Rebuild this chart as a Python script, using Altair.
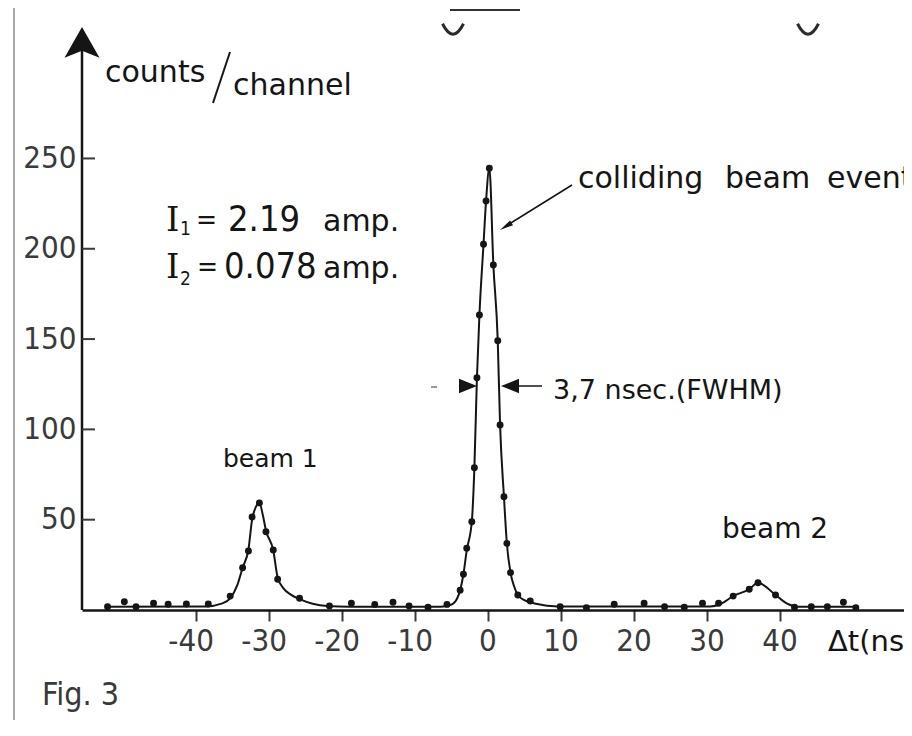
import altair as alt
import pandas as pd

# ---------------- data ----------------
pt_t = [-52.1, -49.8, -48.2, -45.8, -43.8, -41.3, -38.3, -35.3, -33.6, -32.8,
        -32.3, -31.3, -30.4, -29.4, -28.8, -25.8, -21.7, -18.7, -15.5, -13.0,
        -10.8, -8.2, -5.6, -3.8, -3.35, -2.9, -2.2, -1.85, -1.5, -1.16,
        -0.6, -0.25, 0.2, 0.75, 1.35, 1.67, 2.2, 2.6, 3.1, 4.1,
        5.8, 9.9, 13.5, 17.3, 21.4, 24.2, 26.9, 29.4, 31.6, 33.6,
        35.8, 37.0, 39.4, 42.0, 44.3, 46.5, 48.7, 50.4]
pt_v = [1.8, 4.6, 1.8, 3.7, 3.2, 3.3, 3.3, 7.7, 23.4, 32.7,
        51.5, 59.3, 43.3, 33.2, 17.0, 6.5, 2.2, 3.7, 3.1, 4.3,
        2.2, 1.5, 3.1, 11.0, 19.8, 34.2, 48.9, 78.8, 128.6, 163.3,
        202.5, 226.5, 244.6, 191.0, 149.1, 102.4, 62.7, 36.9, 20.7, 8.3,
        5.0, 1.8, 1.3, 3.2, 3.7, 1.8, 1.5, 3.7, 3.7, 7.7,
        11.5, 15.1, 8.3, 1.5, 1.8, 1.8, 4.3, 1.3]

curve_t = [-52.3, -38.5, -36.5, -35.3, -34.3, -33.6, -32.8, -32.3, -31.8, -31.3,
           -30.8, -30.4, -29.4, -28.8, -28.0, -27.0, -25.8, -24.0, -22.0, -19.0,
           -6.5, -5.0, -4.2, -3.8, -3.35, -2.9, -2.2, -1.85, -1.5, -1.16,
           -0.6, -0.25, 0.2, 0.75, 1.35, 1.67, 2.2, 2.6, 3.1, 3.6,
           4.1, 5.0, 6.0, 7.5, 9.5, 30.5, 31.8, 33.6, 35.8, 37.0,
           39.4, 41.0, 42.5, 50.5]
curve_v = [1.8, 2.0, 3.5, 6.5, 14.0, 23.4, 33.5, 50.0, 57.0, 59.3,
           52.0, 44.0, 33.0, 18.0, 12.0, 8.5, 6.0, 3.5, 2.2, 1.8,
           1.8, 3.0, 6.5, 11.0, 19.8, 33.0, 49.0, 78.8, 128.6, 163.3,
           202.5, 226.5, 244.6, 191.0, 149.1, 102.4, 62.7, 36.9, 20.7, 13.0,
           8.3, 5.5, 4.0, 2.8, 2.0, 2.0, 3.2, 7.7, 11.5, 15.1,
           8.3, 3.5, 1.8, 1.8]

x_ticks = [-40, -30, -20, -10, 0, 10, 20, 30, 40]
y_ticks = [50, 100, 150, 200, 250]

# ---------------- styling ----------------
INK = "#151515"
GREY = "#3a3a3a"
SANS = "DejaVu Sans"
NARROW = "Liberation Sans Narrow, DejaVu Sans Condensed, Liberation Sans"
SERIF = "DejaVu Serif"

W, H = 822, 602
X_DOM = [-55.6, 57.0]
Y_DOM = [0, 333.3]

pts = pd.DataFrame({"t": pt_t, "v": pt_v})
crv = pd.DataFrame({"t": curve_t, "v": curve_v})
one = pd.DataFrame({"_": [0]})
neg = pd.DataFrame({"t": [v for v in x_ticks if v < 0],
                    "lab": [str(v) for v in x_ticks if v < 0]})
pos = pd.DataFrame({"t": [v for v in x_ticks if v >= 0],
                    "lab": [str(v) for v in x_ticks if v >= 0]})
ytk = pd.DataFrame({"v": y_ticks})

x_enc = alt.X("t:Q", scale=alt.Scale(domain=X_DOM, nice=False, zero=False),
              axis=alt.Axis(values=x_ticks, labels=False, grid=False, title=None,
                            domainColor=INK, domainWidth=2.5, tickColor=GREY,
                            tickWidth=2, tickSize=11))
y_enc = alt.Y("v:Q", scale=alt.Scale(domain=Y_DOM, nice=False),
              axis=alt.Axis(values=y_ticks, domain=False, ticks=False, grid=False,
                            title=None, labelFont=NARROW, labelFontSize=31,
                            labelColor=GREY, labelPadding=6))

line = alt.Chart(crv).mark_line(interpolate="monotone", color=INK, strokeWidth=2).encode(
    x=x_enc, y=y_enc, order="t:Q")
dots = alt.Chart(pts).mark_circle(size=48, color=INK, opacity=1).encode(x=x_enc, y=y_enc)

# y axis tick marks pointing inward
ytick_marks = alt.Chart(ytk).mark_rule(color=GREY, strokeWidth=2).encode(
    y=alt.Y("v:Q", scale=alt.Scale(domain=Y_DOM, nice=False)),
    x=alt.value(0), x2=alt.value(13))

# x tick labels
neg_lab = alt.Chart(neg).mark_text(align="right", dx=18, font=NARROW, fontSize=31,
                                   color=GREY, baseline="alphabetic").encode(
    x=alt.X("t:Q", scale=alt.Scale(domain=X_DOM, nice=False, zero=False)),
    y=alt.value(643), text="lab:N")
pos_lab = alt.Chart(pos).mark_text(align="center", font=NARROW, fontSize=31,
                                   color=GREY, baseline="alphabetic").encode(
    x=alt.X("t:Q", scale=alt.Scale(domain=X_DOM, nice=False, zero=False)),
    y=alt.value(643), text="lab:N")


def txt(s, x, y, size, font=SANS, align="left", color=INK):
    return alt.Chart(one).mark_text(text=s, align=align, baseline="alphabetic",
                                    font=font, fontSize=size, color=color).encode(
        x=alt.value(x), y=alt.value(y))


def rule(x1, y1, x2, y2, w=2, color=INK):
    return alt.Chart(one).mark_rule(color=color, strokeWidth=w).encode(
        x=alt.value(x1), y=alt.value(y1), x2=alt.value(x2), y2=alt.value(y2))


def head(x, y, path, size, angle=0):
    return alt.Chart(one).mark_point(shape=path, size=size, filled=True, color=INK,
                                     opacity=1, angle=angle, strokeWidth=0).encode(
        x=alt.value(x), y=alt.value(y))


def arc(x, y):
    return alt.Chart(one).mark_point(shape="M-1,-0.6 Q0,1.4 1,-0.6", size=440,
                                     filled=False, color="#2a2a2a", opacity=1,
                                     strokeWidth=3).encode(
        x=alt.value(x), y=alt.value(y))


layers = [
    # scan border
    rule(-68, -8, -68, 720, w=2, color="#a8a8a8"),
    # y axis with arrow
    rule(0, 602, 0, 40, w=2.5),
    head(0, 36.5, "M0,-1 L1,0.75 L0,0.35 L-1,0.75 Z", 1225),
    ytick_marks,
    line, dots,
    neg_lab, pos_lab,
    # axis titles
    txt("counts", 23, 74, 30),
    rule(148, 44, 131, 95, w=2),
    txt("channel", 151, 87, 30),
    txt("\u0394t(nsec)", 746, 643, 29),
    # currents
    txt("I", 84, 223, 34, font=SERIF),
    txt("1", 98, 227, 19, font=NARROW),
    txt("=", 114, 221, 28, font=NARROW),
    txt("2.19", 146, 223, 36, font=NARROW),
    txt("amp.", 241, 223, 30),
    txt("I", 84, 270, 34, font=SERIF),
    txt("2", 98, 277, 19, font=NARROW),
    txt("=", 115, 268, 28, font=NARROW),
    txt("0.078", 142, 270, 36, font=NARROW),
    txt("amp.", 241, 270, 30),
    # colliding beam event
    txt("colliding", 496, 180, 30),
    txt("beam", 643, 180, 30),
    txt("event", 745, 180, 30),
    rule(490, 177, 424, 218, w=1.5),
    head(424.8, 217.8, "M0,-1 L0.35,0.7 L-0.35,0.7 Z", 256, angle=238),
    # FWHM markers
    head(386, 378, "M1,0 L-1,-0.8 L-1,0.8 Z", 324),
    head(428, 378, "M-1,0 L1,-0.8 L1,0.8 Z", 324),
    rule(437, 378, 460, 378, w=1.5),
    rule(349, 379, 355, 379, w=1.5, color="#777"),
    txt("3,7 nsec.(FWHM)", 471, 391, 27),
    # beam labels
    txt("beam 1", 141, 459, 25),
    txt("beam 2", 640, 530, 28),
    # figure label
    txt("Fig. 3", -40, 697, 32, font=NARROW, color=GREY),
    # scan artefacts at top
    rule(368, 2, 438, 2, w=2, color="#333"),
    arc(371, 22),
    arc(726, 22),
]

chart = alt.layer(*layers).properties(
    width=W, height=H,
    autosize=alt.AutoSizeParams(type="none"),
    padding={"left": 74, "top": 0, "right": 0, "bottom": 110},
    background="#ffffff",
).configure_view(stroke=None)

chart.save("out.html", embed_options={"renderer": "svg", "actions": False})
